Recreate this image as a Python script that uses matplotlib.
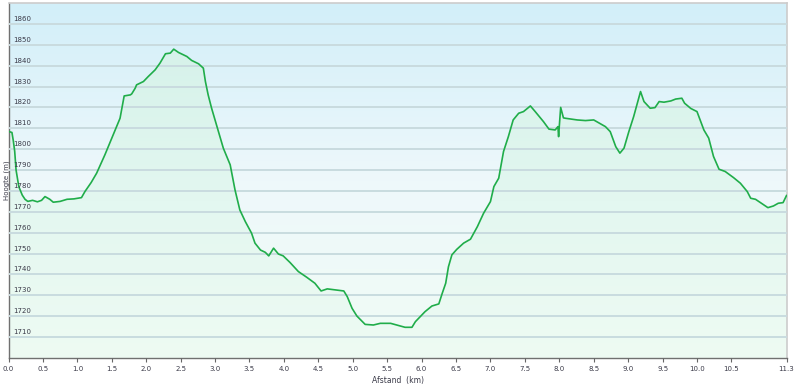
import matplotlib.pyplot as plt
import numpy as np
from matplotlib.colors import LinearSegmentedColormap
from matplotlib.transforms import blended_transform_factory

# elevation profile (km, m)
dist_km = [
    0.00, 0.05, 0.07, 0.09, 0.11, 0.15, 0.20, 0.24, 0.28, 0.35, 0.42, 0.48, 0.53, 0.60, 0.65,
    0.75, 0.85, 0.95, 1.06, 1.11, 1.20, 1.28, 1.40, 1.52, 1.62, 1.68, 1.77, 1.79, 1.84, 1.86,
    1.96, 2.03, 2.13, 2.20, 2.28, 2.35, 2.40, 2.47, 2.59, 2.66, 2.76, 2.83, 2.86, 2.90, 2.95,
    3.05, 3.12, 3.22, 3.29, 3.36, 3.44, 3.53, 3.58, 3.66, 3.73, 3.78, 3.85, 3.92, 3.99, 4.09,
    4.21, 4.33, 4.45, 4.54, 4.63, 4.75, 4.87, 4.92, 4.99, 5.06, 5.18, 5.30, 5.40, 5.55, 5.64,
    5.76, 5.86, 5.91, 5.98, 6.05, 6.15, 6.25, 6.30, 6.35, 6.39, 6.44, 6.51, 6.61, 6.71, 6.81,
    6.90, 7.00, 7.05, 7.12, 7.19, 7.26, 7.33, 7.41, 7.48, 7.58, 7.65, 7.77, 7.85, 7.94, 7.98,
    7.99, 8.00, 8.02, 8.06, 8.09, 8.26, 8.38, 8.50, 8.57, 8.67, 8.74, 8.82, 8.88, 8.94, 9.01,
    9.08, 9.14, 9.18, 9.23, 9.32, 9.39, 9.45, 9.52, 9.62, 9.69, 9.78, 9.82, 9.91, 10.00, 10.10,
    10.17, 10.24, 10.32, 10.41, 10.53, 10.63, 10.73, 10.78, 10.85, 10.95, 11.03, 11.11, 11.18,
    11.25, 11.30,
]
elev_m = [
    1808.5, 1808.0, 1804.0, 1799.0, 1790.0, 1782.0, 1778.0, 1776.0, 1775.0, 1775.5, 1774.8,
    1775.5, 1777.3, 1776.0, 1774.6, 1775.0, 1776.0, 1776.2, 1776.8, 1779.7, 1784.0, 1788.5,
    1797.3, 1806.9, 1814.8, 1825.5, 1826.0, 1826.5, 1829.2, 1830.8, 1832.4, 1834.8, 1838.0,
    1841.2, 1845.7, 1846.0, 1847.9, 1846.3, 1844.4, 1842.5, 1840.9, 1838.8, 1832.4, 1826.0,
    1819.6, 1808.4, 1800.5, 1792.5, 1780.5, 1770.9, 1765.3, 1759.8, 1755.0, 1751.7, 1750.6,
    1748.9, 1752.6, 1749.8, 1748.9, 1745.7, 1741.4, 1738.7, 1735.8, 1732.1, 1733.1, 1732.6,
    1732.1, 1729.4, 1723.8, 1720.1, 1716.1, 1715.8, 1716.6, 1716.6, 1715.8, 1714.7, 1714.7,
    1717.4, 1719.8, 1722.2, 1724.9, 1725.9, 1731.0, 1735.8, 1743.7, 1749.4, 1752.0, 1755.0,
    1756.9, 1762.9, 1769.3, 1774.9, 1782.1, 1786.1, 1798.9, 1806.0, 1814.0, 1817.2, 1818.0,
    1820.7, 1818.0, 1813.2, 1809.6, 1809.2, 1810.8, 1806.0, 1811.0, 1820.0, 1815.0, 1814.8,
    1814.0, 1813.7, 1814.0, 1812.7, 1810.8, 1808.4, 1801.2, 1798.1, 1800.5, 1808.4, 1815.6,
    1822.8, 1827.6, 1822.8, 1819.6, 1819.9, 1822.8, 1822.5, 1823.1, 1824.0, 1824.4, 1822.0,
    1819.5, 1818.0, 1809.2, 1805.3, 1796.5, 1790.4, 1789.3, 1786.4, 1783.7, 1779.7, 1776.5,
    1776.0, 1773.8, 1772.0, 1772.8, 1774.1, 1774.4, 1777.8,
]

y_levels = list(range(1710, 1861, 10))
x_ticks = [0.0, 0.5, 1.0, 1.5, 2.0, 2.5, 3.0, 3.5, 4.0, 4.5, 5.0, 5.5, 6.0, 6.5, 7.0, 7.5,
           8.0, 8.5, 9.0, 9.5, 10.0, 10.5, 11.3]
x_labels = [f"{t:.1f}" for t in x_ticks]

X_MAX, Y_MIN, Y_MAX = 11.3, 1700, 1870
TEXT = "#3a3a48"

fig = plt.figure(figsize=(7.94, 3.86), dpi=100)
ax = fig.add_axes([8.5 / 794, 28 / 386, 778 / 794, 355 / 386])
ax.set_xlim(0, X_MAX)
ax.set_ylim(Y_MIN, Y_MAX)

# background gradient
bg = LinearSegmentedColormap.from_list("bg", ["#f0fcf5", "#eef8fb", "#d2eff9"])
grad = np.linspace(0, 1, 256)[:, None]
ax.imshow(grad, cmap=bg, origin="lower", aspect="auto",
          extent=[0, X_MAX, Y_MIN, Y_MAX], zorder=0)

ax.set_yticks(y_levels)
ax.grid(axis="y", color="#c6d9de", linewidth=1.3, zorder=1)
ax.set_axisbelow(False)

# area under the curve with its own gradient
poly = ax.fill_between(dist_km, elev_m, Y_MIN, color="none", zorder=2)
fillmap = LinearSegmentedColormap.from_list("fill", ["#eefbf3", "#e3f7f0", "#d6f2ea"])
img = ax.imshow(grad, cmap=fillmap, origin="lower", aspect="auto",
                extent=[0, X_MAX, Y_MIN, 1850], zorder=2)
img.set_clip_path(poly.get_paths()[0], transform=ax.transData)

# gridlines again on top of the fill
for lv in y_levels:
    ax.axhline(lv, color="#cadcdf", linewidth=1.3, zorder=3, alpha=0.8)

ax.plot(dist_km, elev_m, color="#20ad4a", linewidth=1.2, zorder=4)

# y labels sit inside the plot, just above each gridline
tr = blended_transform_factory(ax.transAxes, ax.transData)
for lv in y_levels:
    ax.text(0.0058, lv + 2.4, str(lv), transform=tr, fontsize=5, color=TEXT,
            ha="left", va="center", zorder=5)
ax.tick_params(axis="y", length=0, labelleft=False)

ax.set_xticks(x_ticks)
ax.set_xticklabels(x_labels, fontsize=5, color=TEXT)
ax.tick_params(axis="x", length=3, width=0.8, color="#666666", pad=3)
ax.set_xlabel("Afstand  (km)", fontsize=5.5, color=TEXT, labelpad=3)
ax.set_ylabel("Hoogte (m)", fontsize=5, color=TEXT, labelpad=-1)

for side in ("top", "right"):
    ax.spines[side].set_color("#cccccc")
    ax.spines[side].set_linewidth(1.2)
for side in ("left", "bottom"):
    ax.spines[side].set_color("#707070")
    ax.spines[side].set_linewidth(1.0)

fig.savefig("out.png", dpi=100)
plt.close(fig)
